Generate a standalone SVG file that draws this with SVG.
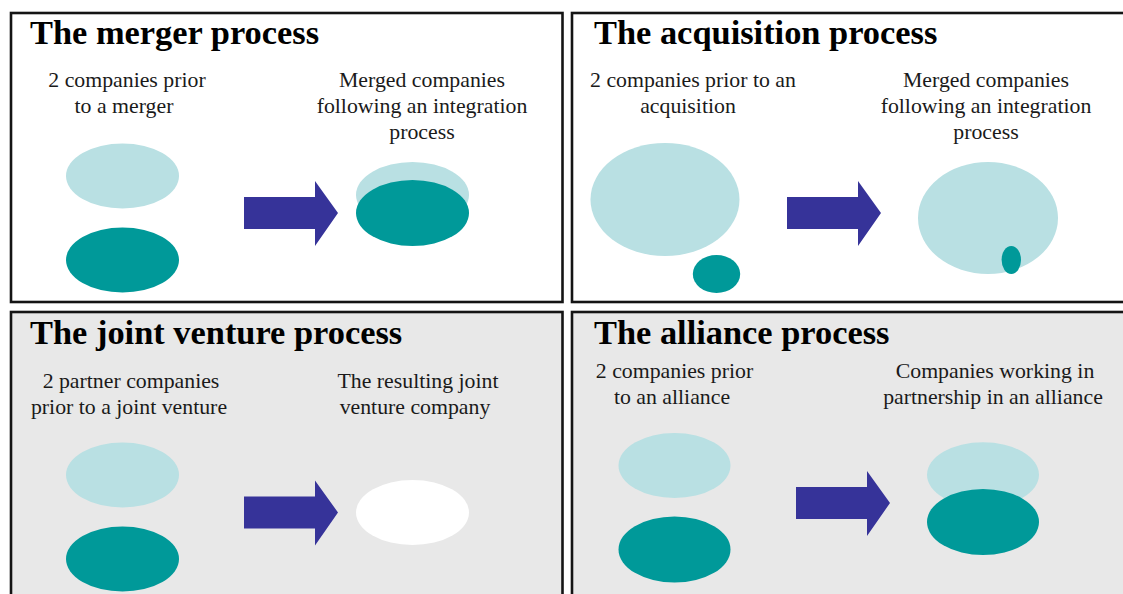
<svg xmlns="http://www.w3.org/2000/svg" width="1123" height="594" viewBox="0 0 1123 594">
  <style>
    .panel { stroke: #141414; stroke-width: 2.6; }
    .white { fill: #ffffff; }
    .grey { fill: #e8e8e8; }
    .title { font-family: "Liberation Serif", "Times New Roman", serif; font-weight: bold; font-size: 34.4px; fill: #000; }
    .label { font-family: "Liberation Serif", "Times New Roman", serif; font-size: 21.8px; fill: #1a1a1a; text-anchor: middle; }
    .light { fill: #b9e0e3; }
    .dark { fill: #009999; }
    .arrow { fill: #363399; }
  </style>
  <defs>
    <!-- block arrow, origin at the shaft's left end, centreline y=0 -->
    <path id="blockArrow" class="arrow" d="M0,-16 H71 V-32 L94,0 L71,33 V16 H0 Z"/>
  </defs>

  <rect width="1123" height="594" fill="#ffffff"/>

  <!-- Merger -->
  <g id="merger">
    <rect class="panel white" x="11" y="13" width="551.5" height="289"/>
    <text class="title" x="30" y="44">The merger process</text>
    <text class="label" x="127" y="87">2 companies prior</text>
    <text class="label" x="124" y="113">to a merger</text>
    <text class="label" x="422" y="87">Merged companies</text>
    <text class="label" x="422" y="113">following an integration</text>
    <text class="label" x="422" y="139">process</text>
    <ellipse class="light" cx="122.5" cy="176" rx="56.5" ry="32.5"/>
    <ellipse class="dark" cx="122.5" cy="260" rx="56.5" ry="32.5"/>
    <ellipse class="light" cx="412.5" cy="195" rx="56.5" ry="33"/>
    <ellipse class="dark" cx="412.5" cy="213" rx="56.5" ry="33"/>
  </g>

  <!-- Acquisition -->
  <g id="acquisition">
    <rect class="panel white" x="572" y="13" width="560" height="289"/>
    <text class="title" x="594" y="44">The acquisition process</text>
    <text class="label" x="693" y="87">2 companies prior to an</text>
    <text class="label" x="688" y="113">acquisition</text>
    <text class="label" x="986" y="87">Merged companies</text>
    <text class="label" x="986" y="113">following an integration</text>
    <text class="label" x="986" y="139">process</text>
    <ellipse class="light" cx="665" cy="199.5" rx="74.5" ry="56.5"/>
    <ellipse class="dark" cx="716.5" cy="274" rx="23.7" ry="19"/>
    <ellipse class="light" cx="988" cy="218" rx="70" ry="56"/>
    <ellipse class="dark" cx="1011.3" cy="260" rx="9.7" ry="14"/>
  </g>

  <!-- Joint venture -->
  <g id="joint-venture">
    <rect class="panel grey" x="11" y="312" width="551.5" height="300"/>
    <text class="title" x="30" y="344">The joint venture process</text>
    <text class="label" x="131" y="388">2 partner companies</text>
    <text class="label" x="129" y="414">prior to a joint venture</text>
    <text class="label" x="418" y="388">The resulting joint</text>
    <text class="label" x="415" y="414">venture company</text>
    <ellipse class="light" cx="122.5" cy="475" rx="56.5" ry="32.5"/>
    <ellipse class="dark" cx="122.5" cy="559" rx="56.5" ry="32.5"/>
    <ellipse class="white" cx="412.5" cy="512.5" rx="56.5" ry="32.5"/>
  </g>

  <!-- Alliance -->
  <g id="alliance">
    <rect class="panel grey" x="572" y="312" width="560" height="300"/>
    <text class="title" x="594" y="344">The alliance process</text>
    <text class="label" x="674.5" y="378">2 companies prior</text>
    <text class="label" x="672" y="404">to an alliance</text>
    <text class="label" x="995" y="378">Companies working in</text>
    <text class="label" x="993" y="404">partnership in an alliance</text>
    <ellipse class="light" cx="674.5" cy="465.5" rx="56" ry="32.5"/>
    <ellipse class="dark" cx="674.5" cy="549.5" rx="56" ry="33"/>
    <ellipse class="light" cx="983" cy="474.8" rx="56" ry="32.5"/>
    <ellipse class="dark" cx="983" cy="522" rx="56" ry="33"/>
  </g>

  <!-- process arrows -->
  <g id="connectors">
    <use href="#blockArrow" x="244" y="213"/>
    <use href="#blockArrow" x="787" y="213"/>
    <use href="#blockArrow" x="244" y="512.5"/>
    <use href="#blockArrow" x="796" y="503"/>
  </g>
</svg>
